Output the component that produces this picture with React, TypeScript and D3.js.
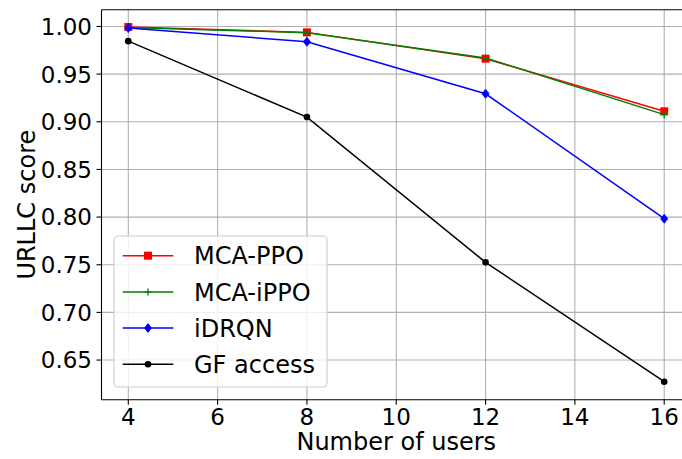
import React from "react";
import * as d3 from "d3";

const users = [4, 8, 12, 16];
const mcaPPO = [0.9995, 0.9938, 0.9662, 0.9110];
const mcaIPPO = [0.9990, 0.9935, 0.9670, 0.9075];
const iDRQN = [0.9985, 0.9840, 0.9294, 0.7983];
const gfAccess = [0.9846, 0.9049, 0.7525, 0.6273];
const xTicks = [4, 6, 8, 10, 12, 14, 16];
const yTicks = [0.65, 0.7, 0.75, 0.8, 0.85, 0.9, 0.95, 1.0];

const seriesNames = ["MCA-PPO", "MCA-iPPO", "iDRQN", "GF access"];
const seriesColors = ["#ff0000", "#008000", "#0000ff", "#000000"];
const seriesMarkers = ["square", "plus", "diamond", "dot"];
const seriesData = [mcaPPO, mcaIPPO, iDRQN, gfAccess];

const W = 682;
const H = 459;
const L = 101.5, R = 691, T = 9.7, B = 399.7;
const FONT = "DejaVu Sans, sans-serif";

function Marker({ type, x, y, color }: { type: string; x: number; y: number; color: string }) {
  if (type === "square") return <rect x={x - 4} y={y - 4} width={8} height={8} fill={color} />;
  if (type === "plus")
    return (
      <path d={`M${x - 3.5},${y}H${x + 3.5}M${x},${y - 3.5}V${y + 3.5}`} stroke={color} strokeWidth={1.3} />
    );
  if (type === "diamond")
    return <path d={`M${x},${y - 5}L${x + 4},${y}L${x},${y + 5}L${x - 4},${y}Z`} fill={color} />;
  return <circle cx={x} cy={y} r={3.3} fill={color} />;
}

export default function App() {
  const x = d3.scaleLinear().domain([3.4, 16.6]).range([L, R]);
  const y = d3.scaleLinear().domain([0.6084, 1.0176]).range([B, T]);
  const line = d3
    .line<number>()
    .x((_, i) => x(users[i]))
    .y((d) => y(d));

  const legX = 114, legY = 236, legW = 213, legH = 151;
  const rowY = [255.7, 291.9, 328.1, 364.3];

  return (
    <svg width={W} height={H} style={{ position: "absolute", left: 0, top: 0, background: "#fff" }} fontFamily={FONT}>
      <defs>
        <clipPath id="plot">
          <rect x={L} y={T} width={R - L} height={B - T} />
        </clipPath>
      </defs>
      {/* grid */}
      {xTicks.map((t) => (
        <line key={"gx" + t} x1={x(t)} x2={x(t)} y1={T} y2={B} stroke="#b0b0b0" strokeWidth={1.1} />
      ))}
      {yTicks.map((t) => (
        <line key={"gy" + t} x1={L} x2={R} y1={y(t)} y2={y(t)} stroke="#b0b0b0" strokeWidth={1.1} />
      ))}
      {/* series */}
      <g clipPath="url(#plot)">
        {seriesData.map((s, k) => (
          <g key={seriesNames[k]}>
            <path d={line(s) || ""} fill="none" stroke={seriesColors[k]} strokeWidth={1.5} />
            {s.map((v, i) => (
              <Marker key={i} type={seriesMarkers[k]} x={x(users[i])} y={y(v)} color={seriesColors[k]} />
            ))}
          </g>
        ))}
      </g>
      {/* spines */}
      <line x1={L} x2={L} y1={T} y2={B} stroke="#000" strokeWidth={1.1} />
      <line x1={L} x2={R} y1={B} y2={B} stroke="#000" strokeWidth={1.1} />
      <line x1={L} x2={R} y1={T} y2={T} stroke="#000" strokeWidth={1.1} />
      {/* ticks */}
      {xTicks.map((t) => (
        <g key={"xt" + t}>
          <line x1={x(t)} x2={x(t)} y1={B} y2={B + 5} stroke="#000" strokeWidth={1.1} />
          <text x={x(t)} y={425} fontSize={23} textAnchor="middle" fill="#000">
            {t}
          </text>
        </g>
      ))}
      {yTicks.map((t) => (
        <g key={"yt" + t}>
          <line x1={L - 5} x2={L} y1={y(t)} y2={y(t)} stroke="#000" strokeWidth={1.1} />
          <text x={92} y={y(t) + 8.4} fontSize={23} textAnchor="end" fill="#000">
            {t.toFixed(2)}
          </text>
        </g>
      ))}
      {/* axis labels */}
      <text x={(L + R) / 2} y={450} fontSize={24} textAnchor="middle" fill="#000">
        Number of users
      </text>
      <text transform={`translate(34.5,${(T + B) / 2}) rotate(-90)`} fontSize={24} textAnchor="middle" fill="#000">
        URLLC score
      </text>
      {/* legend */}
      <rect x={legX} y={legY} width={legW} height={legH} rx={4} ry={4} fill="#fff" fillOpacity={0.8} stroke="#cccccc" strokeWidth={1.1} />
      {seriesNames.map((n, k) => (
        <g key={"leg" + n}>
          <line x1={122.7} x2={173.3} y1={rowY[k]} y2={rowY[k]} stroke={seriesColors[k]} strokeWidth={1.5} />
          <Marker type={seriesMarkers[k]} x={148} y={rowY[k]} color={seriesColors[k]} />
          <text x={194} y={rowY[k] + 8.7} fontSize={24} fill="#000">
            {n}
          </text>
        </g>
      ))}
    </svg>
  );
}
